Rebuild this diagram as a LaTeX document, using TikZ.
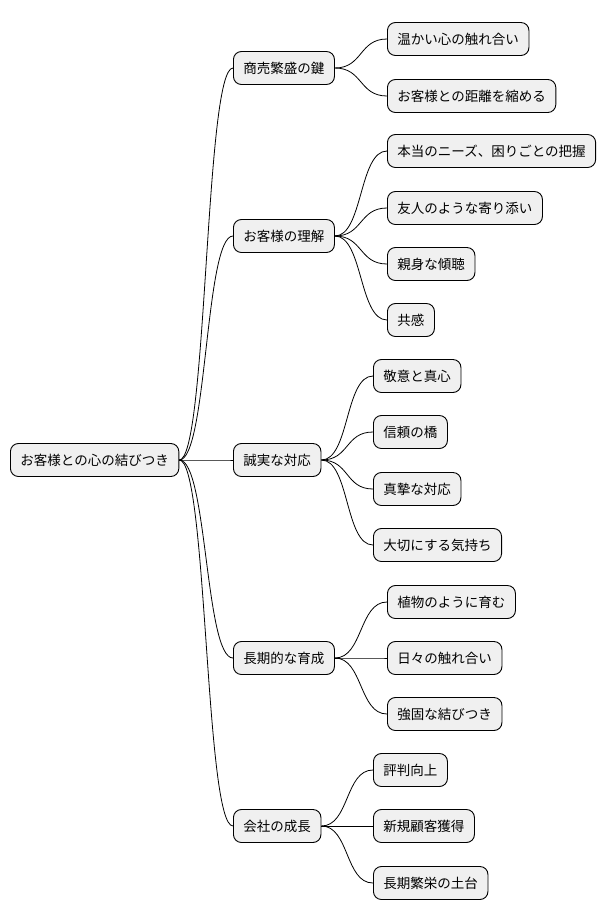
\documentclass[tikz,border=0pt]{standalone}
\usepackage{fontspec}
\setmainfont{Noto Sans CJK JP}
\usetikzlibrary{calc}
\begin{document}
\begin{tikzpicture}[x=1pt,y=-1pt,
  box/.style={draw=black,fill=black!6,rounded corners=8pt,line width=0.9pt,minimum height=33pt,inner xsep=10pt,anchor=west,font=\fontsize{13.5}{15}\selectfont},
  con/.style={draw=black,line width=0.8pt}]
\useasboundingbox (0,0) rectangle (614,921);
\newcommand\lnk[2]{\draw[con] (#1.east) .. controls ($(#1.east)+(28,0)$) and ($(#2.west)+(-28,0)$) .. (#2.west);}
\node[box] (r) at (10,460) {お客様との心の結びつき};
\node[box] (a) at (233,68) {商売繁盛の鍵};
\node[box] (b) at (233,236) {お客様の理解};
\node[box] (c) at (233,460) {誠実な対応};
\node[box] (d) at (233,658) {長期的な育成};
\node[box] (e) at (233,826) {会社の成長};
\node[box] (a1) at (387,39) {温かい心の触れ合い};
\node[box] (a2) at (387,96) {お客様との距離を縮める};
\node[box] (b1) at (387,151) {本当のニーズ、困りごとの把握};
\node[box] (b2) at (387,208) {友人のような寄り添い};
\node[box] (b3) at (387,264) {親身な傾聴};
\node[box] (b4) at (387,320) {共感};
\node[box] (c1) at (373,376) {敬意と真心};
\node[box] (c2) at (373,432) {信頼の橋};
\node[box] (c3) at (373,489) {真摯な対応};
\node[box] (c4) at (373,545) {大切にする気持ち};
\node[box] (d1) at (387,602) {植物のように育む};
\node[box] (d2) at (387,658) {日々の触れ合い};
\node[box] (d3) at (387,714) {強固な結びつき};
\node[box] (e1) at (373,770) {評判向上};
\node[box] (e2) at (373,826) {新規顧客獲得};
\node[box] (e3) at (373,883) {長期繁栄の土台};
\foreach \p in {a,b,c,d,e}{\lnk{r}{\p}}
\foreach \q in {a1,a2}{\lnk{a}{\q}}
\foreach \q in {b1,b2,b3,b4}{\lnk{b}{\q}}
\foreach \q in {c1,c2,c3,c4}{\lnk{c}{\q}}
\foreach \q in {d1,d2,d3}{\lnk{d}{\q}}
\foreach \q in {e1,e2,e3}{\lnk{e}{\q}}
\end{tikzpicture}
\end{document}
